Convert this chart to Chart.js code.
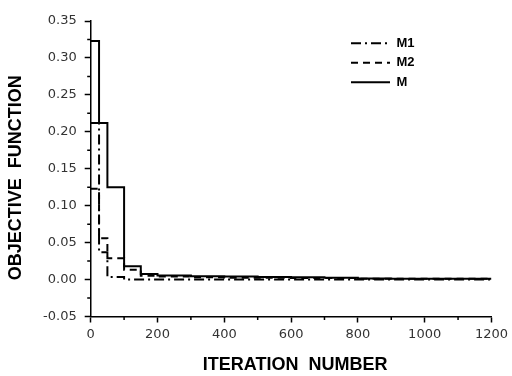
<!DOCTYPE html>
<html><head><meta charset="utf-8">
<script src="https://cdn.jsdelivr.net/npm/chart.js@4"></script>
<style>html,body{margin:0;padding:0;background:#fff}canvas{display:block}</style>
</head><body>
<canvas id="c" width="512" height="376"></canvas>
<script>
// ---- data ----
const seriesNames = ['M1', 'M2', 'M'];
const iterM1 = [0, 25, 50, 100, 1200];
const valM1  = [0.212, 0.037, 0.0035, 0.0, 0.0];
const iterM2 = [0, 25, 50, 100, 150, 200, 300, 400, 600, 800, 1000, 1200];
const valM2  = [0.123, 0.056, 0.029, 0.0134, 0.005, 0.004, 0.003, 0.0025, 0.002, 0.001, 0.001, 0.001];
const iterM  = [0, 25, 50, 100, 150, 200, 300, 400, 500, 600, 700, 800, 900, 1000, 1200];
const valM   = [0.323, 0.212, 0.125, 0.018, 0.0075, 0.0055, 0.0045, 0.004, 0.0035, 0.003, 0.0025, 0.0015, 0.0012, 0.001, 0.001];
const xTicks = [0, 200, 400, 600, 800, 1000, 1200];
const xMinor = [100, 300, 500, 700, 900, 1100];
const yTicks = [-0.05, 0, 0.05, 0.10, 0.15, 0.20, 0.25, 0.30, 0.35];
const yMinor = [-0.025, 0.025, 0.075, 0.125, 0.175, 0.225, 0.275, 0.325];
const xTitle = 'ITERATION  NUMBER';
const yTitle = 'OBJECTIVE  FUNCTION';
const dashes = [[10, 4, 2, 4], [7, 5], []];

const toPts = (xs, ys) => xs.map((x, i) => ({x: x, y: ys[i]}));

const minorTicks = {
  id: 'minorTicks',
  afterDraw(chart) {
    const {ctx, scales: {x, y}} = chart;
    ctx.save();
    ctx.strokeStyle = '#000';
    ctx.lineWidth = 1.5;
    ctx.beginPath();
    xMinor.forEach(v => { const p = x.getPixelForValue(v); ctx.moveTo(p, y.bottom); ctx.lineTo(p, y.bottom + 3.5); });
    yMinor.forEach(v => { const p = y.getPixelForValue(v); ctx.moveTo(x.left, p); ctx.lineTo(x.left - 3.5, p); });
    ctx.stroke();
    ctx.restore();
  }
};

const axisTitles = {
  id: 'axisTitles',
  afterDraw(chart) {
    const ctx = chart.ctx, a = chart.chartArea;
    ctx.save();
    ctx.fillStyle = '#000';
    ctx.font = 'bold 18px "Liberation Sans", Arial, sans-serif';
    ctx.textAlign = 'center';
    ctx.textBaseline = 'middle';
    ctx.fillText(xTitle, (a.left + a.right) / 2 + 4, 365.5);
    ctx.translate(16, (a.top + a.bottom) / 2 + 9);
    ctx.rotate(-Math.PI / 2);
    ctx.fillText(yTitle, 0, 0);
    ctx.restore();
  }
};

const legendPos = {
  id: 'legendPos',
  afterLayout(chart) {
    const lg = chart.legend;
    if (!lg) return;
    const w = lg.width, h = lg.height;
    lg.left = 344.5; lg.top = 30.3;
    lg.right = lg.left + w; lg.bottom = lg.top + h;
  }
};

new Chart(document.getElementById('c'), {
  type: 'line',
  data: {
    datasets: [
      {label: seriesNames[0], data: toPts(iterM1, valM1), borderDash: dashes[0]},
      {label: seriesNames[1], data: toPts(iterM2, valM2), borderDash: dashes[1]},
      {label: seriesNames[2], data: toPts(iterM, valM), borderDash: dashes[2]}
    ].map(d => Object.assign(d, {stepped: 'before', borderColor: '#000', backgroundColor: '#000', borderWidth: 2, pointRadius: 0, pointStyle: 'line', fill: false}))
  },
  options: {
    responsive: false,
    animation: false,
    devicePixelRatio: 1,
    layout: {padding: {top: 21, right: 18.7, bottom: 0, left: 0}},
    plugins: {
      tooltip: {enabled: false},
      legend: {
        position: 'chartArea',
        align: 'start',
        labels: {
          usePointStyle: true, pointStyle: 'line', pointStyleWidth: 39,
          padding: 6.5, color: '#000',
          font: {family: '"Liberation Sans", Arial, sans-serif', size: 13, weight: 'bold'},
          generateLabels: chart => Chart.defaults.plugins.legend.labels.generateLabels(chart).map((it, i) => {
            it.lineDash = chart.data.datasets[it.datasetIndex].borderDash;
            it.lineWidth = 2;
            it.strokeStyle = '#000';
            return it;
          })
        }
      }
    },
    scales: {
      x: {
        type: 'linear', min: 0, max: 1200,
        afterFit: s => { s.height = 59.5; },
        afterBuildTicks: s => { s.ticks = xTicks.map(v => ({value: v})); },
        grid: {drawOnChartArea: false, drawTicks: true, tickLength: 6, tickWidth: 1.5, tickColor: '#000'},
        border: {display: true, color: '#000', width: 1.5},
        ticks: {padding: 4, color: '#333', font: {family: '"DejaVu Sans"', size: 13}, callback: v => String(v), maxRotation: 0, autoSkip: false}
      },
      y: {
        type: 'linear', min: -0.05, max: 0.35,
        afterFit: s => { s.width = 90.7; },
        afterBuildTicks: s => { s.ticks = yTicks.map(v => ({value: v})); },
        grid: {drawOnChartArea: false, drawTicks: true, tickLength: 6, tickWidth: 1.5, tickColor: '#000'},
        border: {display: true, color: '#000', width: 1.5},
        ticks: {padding: 8, color: '#333', font: {family: '"DejaVu Sans"', size: 13}, callback: v => v.toFixed(2), autoSkip: false}
      }
    }
  },
  plugins: [minorTicks, axisTitles, legendPos]
});
</script>
</body></html>
